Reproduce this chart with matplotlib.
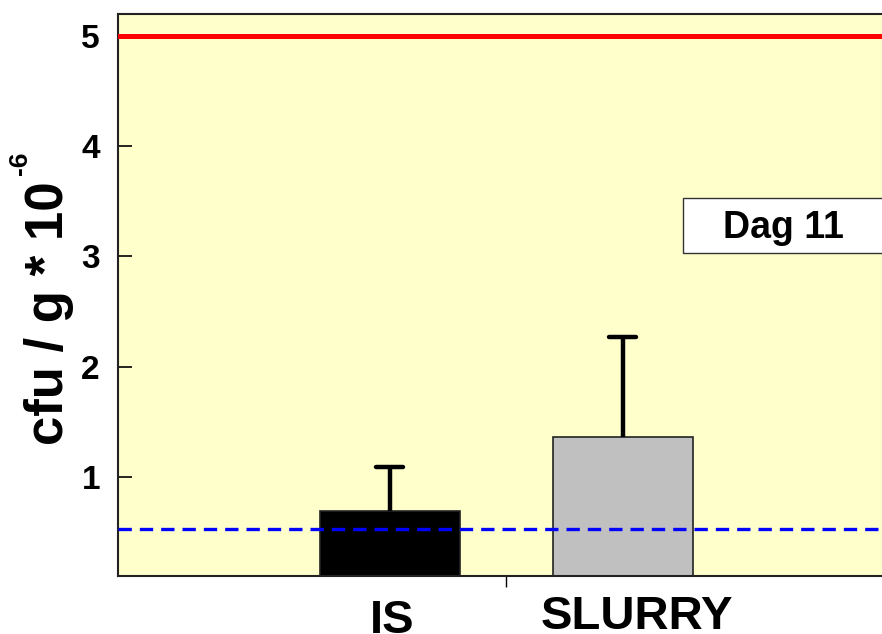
import matplotlib
matplotlib.use("Agg")
import matplotlib.pyplot as plt
from matplotlib.patches import Rectangle

plt.rcParams["font.family"] = ["Liberation Sans", "DejaVu Sans"]
plt.rcParams["font.weight"] = "bold"

# DATA
groups = ["IS", "SLURRY"]
means = [0.69, 1.36]
err_up = [0.40, 0.91]
bar_colors = ["#000000", "#C0C0C0"]
limit_line = 5.0
detect_line = 0.527
yticks = [1, 2, 3, 4, 5]
day_label = "Dag 11"

W, H = 882, 634
fig = plt.figure(figsize=(W / 100, H / 100), dpi=100)
ax = fig.add_axes([118 / W, 58 / H, 782 / W, 562 / H])
ax.set_facecolor("#FFFFCC")

ybot = 0.1
x = [0, 1]
heights = [m - ybot for m in means]
ax.bar(x, heights, bottom=ybot, width=0.6, color=bar_colors,
       edgecolor="#222222", linewidth=1.2, zorder=2)

# upper error bars only
tops = [m + e for m, e in zip(means, err_up)]
ax.vlines(x, means, tops, color="black", linewidth=3.2, zorder=3)
ax.hlines(tops, [xi - 0.058 for xi in x], [xi + 0.058 for xi in x],
          color="black", linewidth=3.2, capstyle="round", zorder=3)

ax.axhline(limit_line, color="#FF0000", linewidth=3.6, zorder=4)
ax.axhline(detect_line, color="#0000FF", linewidth=2.4, dashes=(4, 2.4), zorder=4)

ax.set_xlim(-1.167, 2.189)
ax.set_ylim(ybot, 5.2)
ax.set_yticks(yticks)
ax.set_yticklabels([str(t) for t in yticks], fontsize=24, fontweight="bold")
ax.tick_params(axis="y", direction="in", length=10, width=1.2, pad=13)
ax.set_xticks([0.5])
ax.set_xticklabels([""])
ax.tick_params(axis="x", direction="out", length=8, width=1)

for s in ax.spines.values():
    s.set_linewidth(1.5)
    s.set_color("#222222")

# category labels
ax.text(0.01, -0.42, groups[0], fontsize=34, fontweight="bold",
        ha="center", va="baseline", clip_on=False)
ax.text(1.06, -0.385, groups[1], fontsize=34, fontweight="bold",
        ha="center", va="baseline", clip_on=False)

# day box
ax.add_patch(Rectangle((1.2575, 3.027), 1.2, 0.5, facecolor="white",
                       edgecolor="#333333", linewidth=1, zorder=5))
ax.text(1.687, 3.255, day_label, fontsize=27, fontweight="bold",
        ha="center", va="center", zorder=6)

# y label with small superscript
lab = fig.text(63 / W, 1 - 445 / H, "cfu / g * 10", fontsize=38,
               fontweight="bold", rotation=90, rotation_mode="anchor",
               ha="left", va="baseline")
fig.canvas.draw()
bb = lab.get_window_extent()
fig.text(27 / W, (bb.y1 + 6) / H, "-6", fontsize=19, fontweight="bold",
         rotation=90, rotation_mode="anchor", ha="left", va="baseline")

fig.savefig("out.png", dpi=100)
